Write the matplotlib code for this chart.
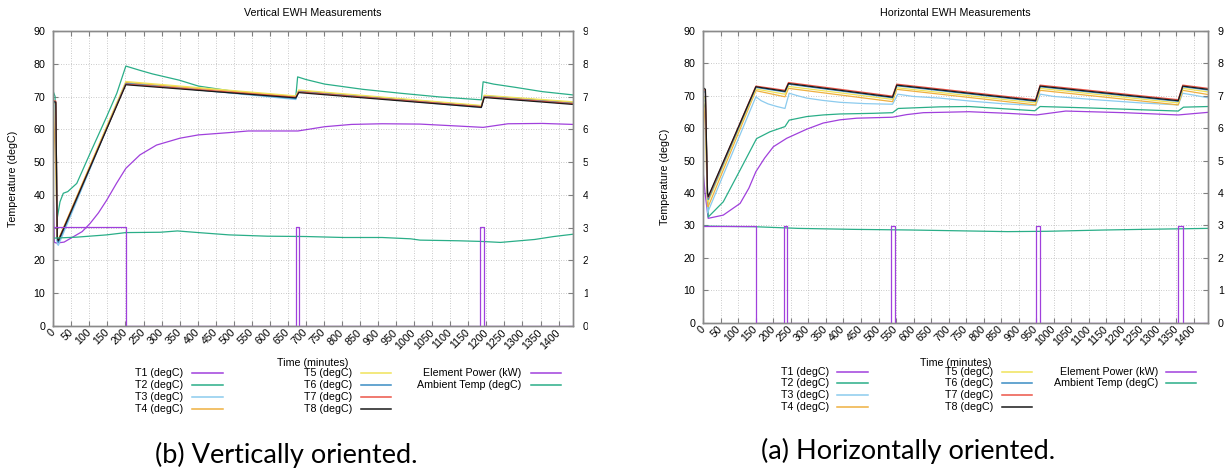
import matplotlib
matplotlib.use('Agg')
import matplotlib.pyplot as plt
from matplotlib.lines import Line2D
from matplotlib.patches import Rectangle

# ---------------- Vertical EWH (left panel) ----------------
# T3..T8 share the same break points
v_cl_time = [0, 7, 11, 14, 201, 672, 680, 1186, 1194, 1440]
v_t3 = [68.0, 67.0, 25.0, 24.6, 74.2, 69.1, 71.7, 66.6, 70.3, 68.0]
v_t4 = [68.0, 47.0, 27.0, 26.3, 74.3, 70.0, 71.8, 67.1, 70.2, 68.2]
v_t5 = [68.0, 67.5, 27.0, 26.3, 74.6, 70.2, 72.0, 67.3, 70.4, 68.4]
v_t6 = [68.2, 68.0, 26.0, 25.5, 74.0, 69.4, 71.5, 66.9, 70.0, 67.9]
v_t7 = [68.8, 68.6, 27.0, 26.2, 73.8, 69.8, 71.4, 66.9, 69.9, 67.8]
v_t8 = [68.5, 68.3, 27.0, 26.0, 73.6, 69.6, 71.2, 66.7, 69.7, 67.6]

v_t2_time = [0, 5, 10, 18.6, 27.7, 40, 65, 102, 148, 176, 201, 240, 275, 349, 402, 487,
             593, 672, 677, 700, 752, 858, 963, 1069, 1186, 1191, 1220, 1281, 1355, 1440]
v_t2 = [71.5, 70.0, 32.3, 37.9, 40.5, 41.0, 43.5, 52.7, 63.9, 71.0, 79.3, 78.0, 76.9, 75.0, 73.2, 71.8,
        70.5, 70.0, 76.0, 75.2, 73.8, 72.2, 71.0, 69.9, 69.0, 74.5, 73.8, 72.8, 71.5, 70.5]

v_t1_time = [0, 3, 9.3, 30, 55, 80, 102, 125, 148, 175, 201, 240, 286, 351, 402, 487,
             540, 678, 752, 826, 911, 1016, 1122, 1191, 1260, 1355, 1440]
v_t1 = [40.0, 25.5, 25.3, 25.6, 27.2, 28.8, 31.3, 34.5, 38.4, 43.5, 48.1, 52.2, 55.2, 57.3, 58.3, 59.0,
        59.5, 59.5, 60.8, 61.5, 61.7, 61.6, 61.0, 60.6, 61.7, 61.8, 61.5]

v_amb_time = [0, 64, 148, 201, 296, 344, 402, 487, 593, 699, 805, 911, 990, 1016,
              1122, 1186, 1239, 1334, 1387, 1440]
v_amb = [26.8, 27.1, 27.8, 28.5, 28.6, 29.0, 28.5, 27.8, 27.4, 27.3, 27.0, 27.0, 26.6, 26.2,
         26.0, 25.8, 25.5, 26.4, 27.3, 28.0]

v_pow_time = [0, 201, 672, 681, 1182, 1194, 1440]
v_pow = [3.03, 0, 3.03, 0, 3.03, 0, 0]

# ---------------- Horizontal EWH (right panel) ----------------
h_cl_time = [0, 6, 12, 14, 150, 233, 243, 540, 552, 948, 961, 1355, 1368, 1440]
h_t4 = [70.0, 60.0, 36.0, 35.8, 71.6, 69.7, 72.3, 68.2, 72.0, 67.2, 71.7, 67.2, 71.7, 70.4]
h_t5 = [70.0, 69.0, 38.0, 37.3, 72.1, 70.5, 72.9, 68.9, 72.5, 67.8, 72.3, 67.8, 72.3, 71.2]
h_t6 = [71.5, 71.0, 39.0, 38.0, 72.6, 71.2, 73.6, 69.4, 73.1, 68.3, 72.8, 68.3, 72.8, 71.8]
h_t7 = [72.2, 71.5, 40.0, 38.6, 73.0, 71.7, 74.1, 69.9, 73.6, 68.8, 73.3, 68.8, 73.3, 72.3]
h_t8 = [72.5, 72.0, 40.0, 38.9, 72.8, 71.4, 73.8, 69.6, 73.3, 68.5, 73.0, 68.5, 73.0, 72.0]

h_t3_time = [0, 6, 12, 150, 165, 185, 210, 233, 245, 270, 295, 340, 390, 460, 540, 555,
             600, 675, 760, 850, 948, 962, 1000, 1132, 1250, 1355, 1368, 1400, 1440]
h_t3 = [69.0, 68.0, 33.9, 69.7, 68.5, 67.5, 66.7, 66.1, 70.8, 70.0, 69.3, 68.6, 68.0, 67.6, 67.4, 70.5,
        69.8, 69.3, 68.4, 67.6, 67.0, 70.5, 69.8, 68.7, 67.8, 67.2, 70.8, 70.2, 69.4]

h_t2_time = [0, 6, 14, 57, 105, 150, 152, 190, 233, 245, 295, 342, 390, 485, 540, 556,
             675, 758, 946, 961, 1089, 1355, 1370, 1440]
h_t2 = [68.0, 66.0, 32.6, 37.3, 47.1, 56.4, 56.8, 58.9, 60.5, 62.5, 63.6, 64.1, 64.4, 64.6, 64.8, 66.1,
        66.6, 66.7, 65.4, 66.7, 66.3, 65.3, 66.5, 66.7]

h_t1_time = [0, 5, 14, 57, 105, 130, 150, 175, 200, 238, 295, 342, 390, 438, 540, 580,
             628, 675, 758, 868, 951, 1034, 1200, 1355, 1440]
h_t1 = [46.0, 40.0, 32.2, 33.2, 36.8, 41.5, 46.6, 50.8, 54.3, 56.9, 59.7, 61.6, 62.6, 63.1, 63.4, 64.2,
        64.8, 64.9, 65.1, 64.6, 64.1, 65.3, 64.8, 64.1, 64.9]

h_amb_time = [0, 150, 271, 426, 592, 758, 868, 979, 1145, 1255, 1440]
h_amb = [29.8, 29.6, 29.1, 28.8, 28.6, 28.3, 28.1, 28.2, 28.6, 28.8, 29.1]

h_pow_time = [0, 150, 229, 240, 536, 547, 948, 961, 1355, 1368, 1440]
h_pow = [2.98, 0, 2.98, 0, 2.98, 0, 2.98, 0, 2.98, 0, 0]

# legend labels / colours (gnuplot default palette)
t_labels = ['T1 (degC)', 'T2 (degC)', 'T3 (degC)', 'T4 (degC)',
            'T5 (degC)', 'T6 (degC)', 'T7 (degC)', 'T8 (degC)']
t_colors = ['#a040dc', '#2aae88', '#8ccbee', '#efb040',
            '#f0e35a', '#3a8dc4', '#ec5548', '#1a1a1a']
pow_label, amb_label = 'Element Power (kW)', 'Ambient Temp (degC)'
pow_color, amb_color = '#a040dc', '#2aae88'

W, H = 1228, 472
FS = 7.7
GF = 'Liberation Sans'

fig = plt.figure(figsize=(W / 100, H / 100), dpi=100)


def setup(left, right, top, bottom, title):
    ax = fig.add_axes([left / W, 1 - bottom / H, (right - left) / W, (bottom - top) / H])
    ax2 = ax.twinx()
    ax.set_xlim(0, 1440)
    ax.set_ylim(0, 90)
    ax2.set_ylim(0, 9)
    ax.set_xticks(range(0, 1401, 50))
    ax.set_xticklabels([str(v) for v in range(0, 1401, 50)], rotation=45, ha='right',
                       va='center', rotation_mode='anchor', family=GF)
    ax.set_yticks(range(0, 91, 10))
    ax2.set_yticks(range(0, 10))
    ax.grid(True, color='#b8b8b8', ls=(0, (1, 2)), lw=0.6)
    ax.tick_params(direction='in', length=3.5, width=0.8, color='#808080', labelsize=FS,
                   top=True, right=False)
    ax.tick_params(axis='x', pad=3.5)
    ax.tick_params(axis='y', pad=5.8)
    ax2.tick_params(direction='in', length=3.5, width=0.8, color='#808080', labelsize=FS, pad=7)
    for a in (ax, ax2):
        for s in a.spines.values():
            s.set_color('#8a8a8a')
            s.set_linewidth(1.0)
        for lab in a.get_yticklabels():
            lab.set_family(GF)
    fig.text((left + right) / 2 / W, 1 - 13 / H, title, ha='center', va='center',
             fontsize=FS, family=GF)
    fig.text((left + right) / 2 / W, 1 - 363 / H, 'Time (minutes)', ha='center', va='center',
             fontsize=FS, family=GF)
    return ax, ax2


LW = 0.9

# ---- left panel ----
ax, ax2 = setup(53.3, 573, 31, 326, 'Vertical EWH Measurements')
ax.plot(v_t1_time, v_t1, color=t_colors[0], lw=LW)
ax.plot(v_t2_time, v_t2, color=t_colors[1], lw=LW)
for vals, c in zip([v_t3, v_t4, v_t5, v_t6, v_t7, v_t8], t_colors[2:]):
    ax.plot(v_cl_time, vals, color=c, lw=LW)
ax.plot(v_amb_time, v_amb, color=amb_color, lw=LW)
ax2.plot(v_pow_time, v_pow, color=pow_color, lw=LW, drawstyle='steps-post')
fig.text(13.4 / W, 1 - 178.5 / H, 'Temperature (degC)', rotation=90, ha='center', va='center',
         fontsize=FS, family=GF)

# ---- right panel ----
bx, bx2 = setup(703.3, 1208, 31, 322.7, 'Horizontal EWH Measurements')
bx.plot(h_t1_time, h_t1, color=t_colors[0], lw=LW)
bx.plot(h_t2_time, h_t2, color=t_colors[1], lw=LW)
bx.plot(h_t3_time, h_t3, color=t_colors[2], lw=LW)
for vals, c in zip([h_t4, h_t5, h_t6, h_t7, h_t8], t_colors[3:]):
    bx.plot(h_cl_time, vals, color=c, lw=LW)
bx.plot(h_amb_time, h_amb, color=amb_color, lw=LW)
bx2.plot(h_pow_time, h_pow, color=pow_color, lw=LW, drawstyle='steps-post')
fig.text(664.5 / W, 1 - 177 / H, 'Temperature (degC)', rotation=90, ha='center', va='center',
         fontsize=FS, family=GF)


# gnuplot-like key under each plot: right-aligned text, sample line after it
def key(cols, rows):
    entries = [t_labels[:4], t_labels[4:], [pow_label, amb_label]]
    colors = [t_colors[:4], t_colors[4:], [pow_color, amb_color]]
    for (xt, x0, x1), labs, cs in zip(cols, entries, colors):
        for lab, c, y in zip(labs, cs, rows):
            fig.text(xt / W, 1 - y / H, lab, ha='right', va='center', fontsize=FS, family=GF)
            fig.add_artist(Line2D([x0 / W, x1 / W], [1 - y / H, 1 - y / H], color=c, lw=1.1,
                                  transform=fig.transFigure))


key([(183.3, 191.7, 223), (352, 361, 391.5), (521.6, 531, 560.6)],
    [373.3, 385.3, 397.3, 409])
key([(828.8, 837, 868), (993, 1002, 1031.6), (1158, 1165.7, 1195.6)],
    [371.7, 383.3, 394.8, 406.5])

# the left picture was cropped just past its right axis labels
fig.add_artist(Rectangle((588 / W, 0), 60 / W, 1, color='white', transform=fig.transFigure,
                         zorder=20))

# sub-figure captions
fig.text(286.5 / W, 1 - 463 / H, '(b) Vertically oriented.', ha='center', va='baseline',
         fontsize=19.5, family='Lato')
fig.text(908 / W, 1 - 459 / H, '(a) Horizontally oriented.', ha='center', va='baseline',
         fontsize=19.5, family='Lato')

fig.savefig('out.png', dpi=100)
